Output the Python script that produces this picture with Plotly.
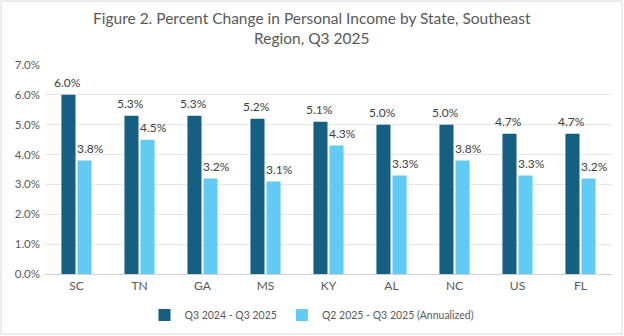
import plotly.graph_objects as go

states = ["SC", "TN", "GA", "MS", "KY", "AL", "NC", "US", "FL"]
yoy_change = [6.0, 5.3, 5.3, 5.2, 5.1, 5.0, 5.0, 4.7, 4.7]
qoq_annualized = [3.8, 4.5, 3.2, 3.1, 4.3, 3.3, 3.8, 3.3, 3.2]
series_names = ["Q3 2024 - Q3 2025", "Q2 2025 - Q3 2025 (Annualized)"]
y_ticks = [0, 1, 2, 3, 4, 5, 6, 7]
y_tick_labels = [f"{v:.1f}%" for v in y_ticks]

FONT = "Lato"
GRAY = "#595959"
COLORS = ["#156082", "#61CBF3"]

fig = go.Figure()
for name, vals, color in zip(series_names, [yoy_change, qoq_annualized], COLORS):
    fig.add_trace(go.Bar(
        x=states, y=vals, name=name,
        marker=dict(color=color, line=dict(width=0)),
    ))

# value labels above each bar (left bar / right bar of each group)
for vals, xshift in [(yoy_change, -9), (qoq_annualized, 14)]:
    for s, v in zip(states, vals):
        fig.add_annotation(
            x=s, y=v, xref="x", yref="y", text=f"{v:.1f}%",
            xshift=xshift, yshift=12, xanchor="center", yanchor="middle",
            showarrow=False, font=dict(family=FONT, size=12, color="#404040"),
        )

# plot-area geometry in pixels
L, R, T, B, W, H = 45, 12, 65, 62, 624, 336
pw, ph = W - L - R, H - T - B

def px(pixel_x):
    """Convert a pixel column (from left) to paper x."""
    return (pixel_x - L) / pw

def py(pixel_y):
    """Convert a pixel row (from top) to paper y."""
    return (H - B - pixel_y) / ph

# outer chart border
fig.add_shape(
    type="rect", xref="paper", yref="paper",
    x0=px(1), x1=px(W - 2),
    y0=py(H - 2), y1=py(1),
    line=dict(color="#d9d9d9", width=1), layer="below",
)

# chart title
fig.add_annotation(
    text="Figure 2. Percent Change in Personal Income by State, Southeast<br>Region, Q3 2025",
    xref="paper", yref="paper", x=px(312), y=py(28),
    xanchor="center", yanchor="middle", showarrow=False,
    font=dict(family=FONT, size=15.5, color=GRAY),
)

fig.update_layout(
    width=W, height=H,
    margin=dict(l=L, r=R, t=T, b=B, autoexpand=False),
    paper_bgcolor="white", plot_bgcolor="white",
    barmode="group", bargap=0.49, bargroupgap=0.125,
    xaxis=dict(
        showgrid=False, showline=False, ticks="",
        tickfont=dict(family=FONT, size=12, color=GRAY),
        ticklabelstandoff=3,
    ),
    yaxis=dict(
        range=[0, 7], tickvals=y_ticks, ticktext=y_tick_labels,
        showgrid=True, gridcolor="#e6e6e6", gridwidth=1,
        zeroline=True, zerolinecolor="#d0d0d0", zerolinewidth=1,
        tickfont=dict(family=FONT, size=11.5, color=GRAY),
        ticklabelstandoff=4,
    ),
    legend=dict(
        orientation="h", x=px(312), xanchor="center", y=py(315), yanchor="middle",
        font=dict(family=FONT, size=10.5, color=GRAY),
        itemwidth=30, traceorder="normal",
    ),
    showlegend=True,
)

fig.write_html("out.html")
